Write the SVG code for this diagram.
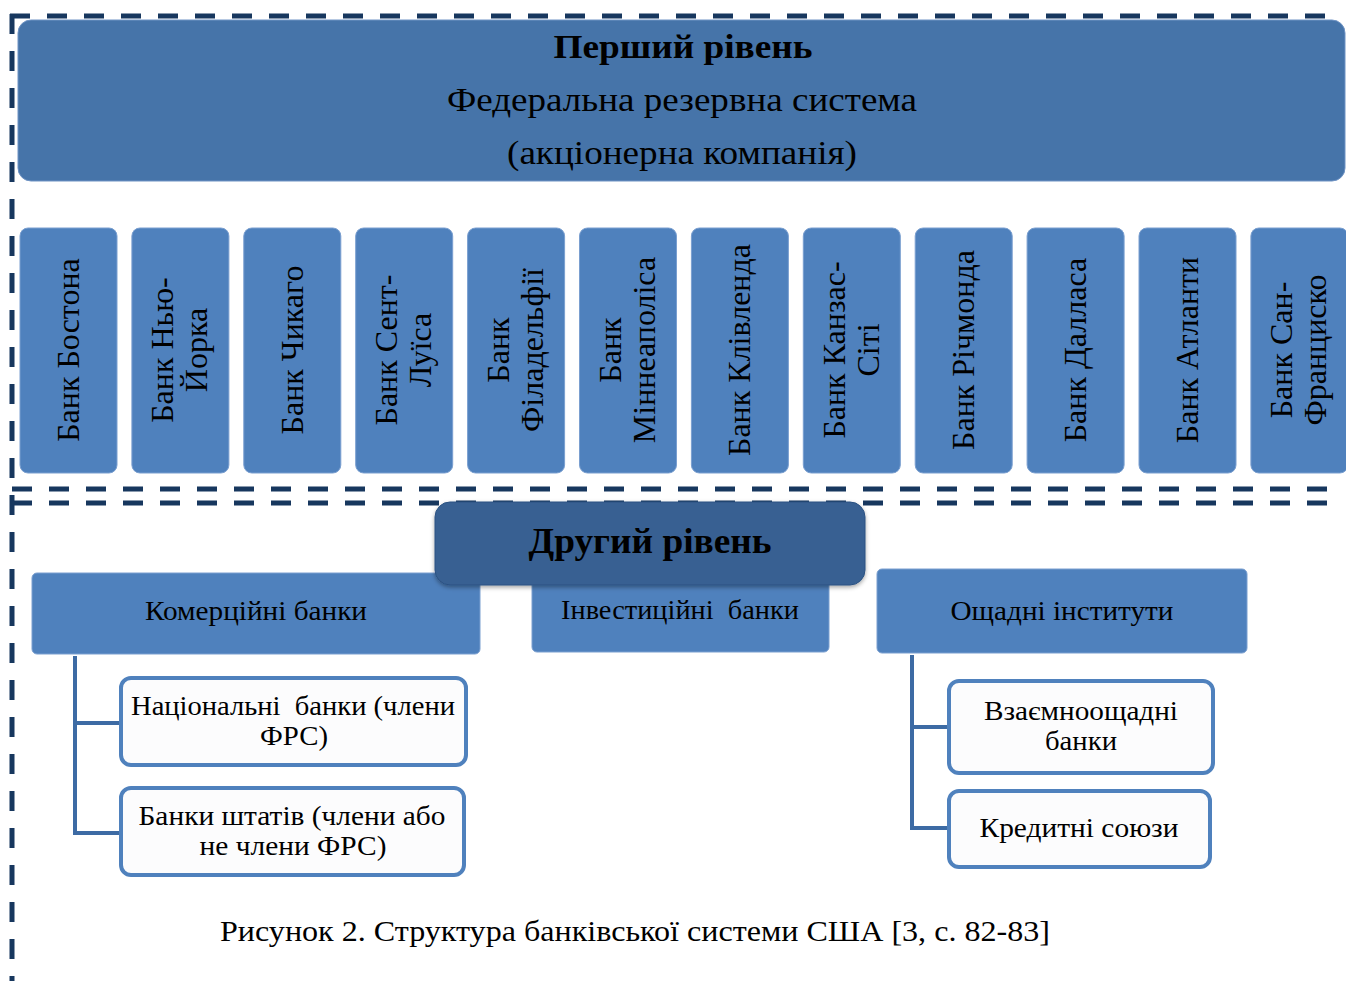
<svg xmlns="http://www.w3.org/2000/svg" width="1346" height="981" viewBox="0 0 1346 981">
<style>
text{font-family:"Liberation Serif","Times New Roman",serif;fill:#000}
.dash{stroke:#17375E;stroke-width:5;stroke-dasharray:20 17;fill:none}
.col{fill:#4F81BD;stroke:#7A9FD0;stroke-width:1}
.vt{font-size:32px;text-anchor:middle}
.lvl2{fill:#4F81BD;stroke:#7A9FD0;stroke-width:1}
.l2t{font-size:28px;text-anchor:middle}
.child{fill:#FCFCFD;stroke:#4F81BD;stroke-width:4}
.ct{font-size:28px;text-anchor:middle}
.conn{stroke:#3D6BA4;stroke-width:4;fill:none}
</style>
<defs>
<filter id="sh" x="-10%" y="-20%" width="120%" height="150%">
<feDropShadow dx="0" dy="2" stdDeviation="2" flood-color="#000" flood-opacity="0.35"/>
</filter>
</defs>
<g id="frame">
<line class="dash" x1="10" y1="16" x2="1336" y2="16"/>
<line class="dash" x1="12" y1="14" x2="12" y2="981"/>
<line class="dash" x1="12" y1="489" x2="1340" y2="489"/>
<line class="dash" x1="12" y1="503" x2="1340" y2="503"/>
</g>
<g id="level1">
<rect x="18" y="20" width="1327" height="161" rx="13" fill="#4674A9" stroke="#6F93C4" stroke-width="1"/>
<text x="683" y="58" font-size="33" font-weight="bold" text-anchor="middle" textLength="259" lengthAdjust="spacingAndGlyphs">Перший рівень</text>
<text x="682" y="111" font-size="34" text-anchor="middle" textLength="470" lengthAdjust="spacingAndGlyphs">Федеральна резервна система</text>
<text x="682" y="164" font-size="34" text-anchor="middle" textLength="350" lengthAdjust="spacingAndGlyphs">(акціонерна компанія)</text>
</g>
<g id="bank-boston"><rect class="col" x="20" y="228" width="97" height="245" rx="8"/><text class="vt" transform="translate(68.5,350) rotate(-90)" y="10.5">Банк Бостона</text></g>
<g id="bank-newyork"><rect class="col" x="131.9" y="228" width="97" height="245" rx="8"/><text class="vt" transform="translate(180.4,350) rotate(-90)"><tspan x="0" y="-7">Банк Нью-</tspan><tspan x="0" y="27">Йорка</tspan></text></g>
<g id="bank-chicago"><rect class="col" x="243.8" y="228" width="97" height="245" rx="8"/><text class="vt" transform="translate(292.3,350) rotate(-90)" y="10.5">Банк Чикаго</text></g>
<g id="bank-stlouis"><rect class="col" x="355.7" y="228" width="97" height="245" rx="8"/><text class="vt" transform="translate(404.2,350) rotate(-90)"><tspan x="0" y="-7">Банк Сент-</tspan><tspan x="0" y="27">Луїса</tspan></text></g>
<g id="bank-philadelphia"><rect class="col" x="467.6" y="228" width="97" height="245" rx="8"/><text class="vt" transform="translate(516.1,350) rotate(-90)"><tspan x="0" y="-7">Банк</tspan><tspan x="0" y="27">Філадельфії</tspan></text></g>
<g id="bank-minneapolis"><rect class="col" x="579.5" y="228" width="97" height="245" rx="8"/><text class="vt" transform="translate(628,350) rotate(-90)"><tspan x="0" y="-7">Банк</tspan><tspan x="0" y="27">Міннеаполіса</tspan></text></g>
<g id="bank-cleveland"><rect class="col" x="691.4" y="228" width="97" height="245" rx="8"/><text class="vt" transform="translate(739.9,350) rotate(-90)" y="10.5">Банк Клівленда</text></g>
<g id="bank-kansascity"><rect class="col" x="803.3" y="228" width="97" height="245" rx="8"/><text class="vt" transform="translate(851.8,350) rotate(-90)"><tspan x="0" y="-7">Банк Канзас-</tspan><tspan x="0" y="27">Сіті</tspan></text></g>
<g id="bank-richmond"><rect class="col" x="915.2" y="228" width="97" height="245" rx="8"/><text class="vt" transform="translate(963.7,350) rotate(-90)" y="10.5">Банк Річмонда</text></g>
<g id="bank-dallas"><rect class="col" x="1027.1" y="228" width="97" height="245" rx="8"/><text class="vt" transform="translate(1075.6,350) rotate(-90)" y="10.5">Банк Далласа</text></g>
<g id="bank-atlanta"><rect class="col" x="1139" y="228" width="97" height="245" rx="8"/><text class="vt" transform="translate(1187.5,350) rotate(-90)" y="10.5">Банк Атланти</text></g>
<g id="bank-sanfrancisco"><rect class="col" x="1250.9" y="228" width="97" height="245" rx="8"/><text class="vt" transform="translate(1299.4,350) rotate(-90)"><tspan x="0" y="-7">Банк Сан-</tspan><tspan x="0" y="27">Франциско</tspan></text></g>
<g id="connectors">
<path class="conn" d="M75 656 V833 H121 M75 723 H121"/>
<path class="conn" d="M912 655 V828 H949 M912 727 H949"/>
</g>
<g id="commercial"><rect class="lvl2" x="32" y="573" width="448" height="81" rx="5"/><text class="l2t" x="256" y="620" textLength="222" lengthAdjust="spacingAndGlyphs">Комерційні банки</text></g>
<g id="investment"><rect class="lvl2" x="532" y="570" width="297" height="82" rx="5"/><text class="l2t" x="680" y="619" xml:space="preserve" textLength="238" lengthAdjust="spacingAndGlyphs">Інвестиційні  банки</text></g>
<g id="savings"><rect class="lvl2" x="877" y="569" width="370" height="84" rx="5"/><text class="l2t" x="1062" y="620" textLength="223" lengthAdjust="spacingAndGlyphs">Ощадні інститути</text></g>
<g id="level2"><rect x="435" y="502" width="430" height="83" rx="15" fill="#376092" stroke="#2C5282" stroke-width="1" filter="url(#sh)"/><text x="650" y="553" font-size="35" font-weight="bold" text-anchor="middle" textLength="243" lengthAdjust="spacingAndGlyphs">Другий рівень</text></g>
<g id="national"><rect class="child" x="121" y="678" width="345" height="87" rx="10"/><text class="ct" x="293" y="715" xml:space="preserve" textLength="324" lengthAdjust="spacingAndGlyphs">Національні  банки (члени</text><text class="ct" x="294" y="745" textLength="68" lengthAdjust="spacingAndGlyphs">ФРС)</text></g>
<g id="state"><rect class="child" x="121" y="788" width="343" height="87" rx="10"/><text class="ct" x="292" y="825" textLength="307" lengthAdjust="spacingAndGlyphs">Банки штатів (члени або</text><text class="ct" x="293" y="855" textLength="187" lengthAdjust="spacingAndGlyphs">не члени ФРС)</text></g>
<g id="mutual"><rect class="child" x="949" y="681" width="264" height="92" rx="10"/><text class="ct" x="1081" y="720" textLength="194" lengthAdjust="spacingAndGlyphs">Взаємноощадні</text><text class="ct" x="1081" y="750" textLength="72" lengthAdjust="spacingAndGlyphs">банки</text></g>
<g id="credit"><rect class="child" x="949" y="791" width="261" height="76" rx="10"/><text class="ct" x="1079" y="837" textLength="199" lengthAdjust="spacingAndGlyphs">Кредитні союзи</text></g>
<text x="635" y="941" font-size="30" text-anchor="middle" textLength="830" lengthAdjust="spacingAndGlyphs">Рисунок 2. Структура банківської системи США [3, с. 82-83]</text>
</svg>
